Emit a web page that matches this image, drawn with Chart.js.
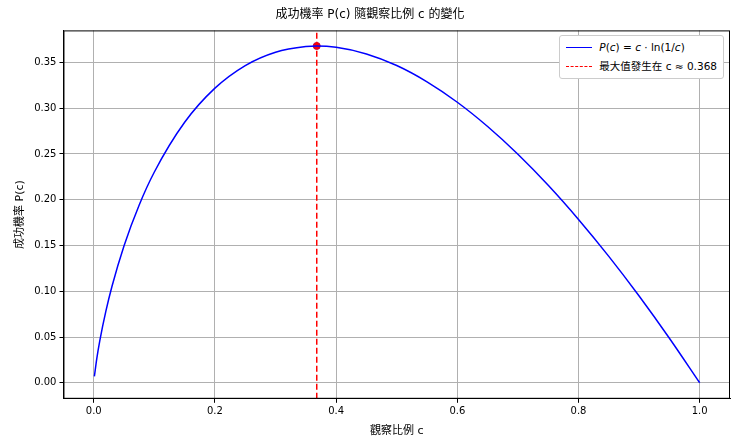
<!DOCTYPE html>
<html><head><meta charset="utf-8">
<script src="https://cdn.jsdelivr.net/npm/chart.js@4"></script>
<style>
body{margin:0;background:#fff;font-family:"DejaVu Sans","Noto Sans CJK TC",sans-serif;}
#wrap{position:relative;width:740px;height:444px;}
#legend{position:absolute;right:16px;top:35px;background:#fff;border:1px solid #ccc;border-radius:3px;padding:2px 6px;font-size:10.5px;line-height:19px;}
.row{display:flex;align-items:center;white-space:nowrap}
.sw{width:26px;height:0;margin-right:7px}
</style></head><body>
<div id="wrap"><canvas id="c" width="740" height="444"></canvas>
<div id="legend">
<div class="row"><span class="sw" style="border-top:1.5px solid blue"></span><span><i>P</i>(<i>c</i>) = <i>c</i> · ln(1/<i>c</i>)</span></div>
<div class="row"><span class="sw" style="border-top:1.8px dashed red"></span><span>最大值發生在 c ≈ 0.368</span></div>
</div></div>
<script>
const cVals=[0.001,0.005,0.01,0.02,0.03,0.05,0.075,0.1,0.15,0.2,0.25,0.3,0.35,0.3679,0.4,0.45,0.5,0.55,0.6,0.65,0.7,0.75,0.8,0.85,0.9,0.95,1.0];
const pVals=[0.0069,0.0265,0.0461,0.0782,0.1052,0.1498,0.1943,0.2303,0.2846,0.3219,0.3466,0.3612,0.3674,0.3679,0.3665,0.3593,0.3466,0.3288,0.3065,0.2800,0.2497,0.2158,0.1785,0.1381,0.0948,0.0487,0.0];
const peakC=0.368, peakP=0.368;
const xTicks=[0,0.2,0.4,0.6,0.8,1.0];
const yTicks=[0,0.05,0.1,0.15,0.2,0.25,0.3,0.35];
const F='"DejaVu Sans","Noto Sans CJK TC",sans-serif';
const frame={id:'frame',afterDraw(ch){const a=ch.chartArea,x=ch.ctx;x.save();x.strokeStyle='#000';x.lineWidth=1;x.strokeRect(a.left+0.5,a.top+0.5,a.right-a.left-1,a.bottom-a.top-1);x.restore();}};
new Chart(document.getElementById('c'),{
type:'scatter',
plugins:[frame],
data:{datasets:[
{data:cVals.map((c,i)=>({x:c,y:pVals[i]})),showLine:true,borderColor:'blue',borderWidth:1.5,pointRadius:0,cubicInterpolationMode:'monotone'},
{data:[{x:peakC,y:-0.0175},{x:peakC,y:0.385}],showLine:true,borderColor:'red',borderWidth:1.5,borderDash:[6,3],pointRadius:0},
{data:[{x:peakC,y:peakP}],pointRadius:3.5,pointBackgroundColor:'red',pointBorderColor:'#c0003a',borderWidth:1}
]},
options:{responsive:false,animation:false,
layout:{padding:{left:10,right:10,top:0,bottom:2}},
plugins:{legend:{display:false},tooltip:{enabled:false},
title:{display:true,text:'成功機率 P(c) 隨觀察比例 c 的變化',color:'#000',font:{family:F,size:12,weight:'normal'},padding:{top:8,bottom:8}}},
scales:{
x:{type:'linear',min:-0.05,max:1.05,afterBuildTicks:a=>{a.ticks=xTicks.map(v=>({value:v}))},
ticks:{color:'#000',font:{family:F,size:10},callback:v=>v.toFixed(1)},
grid:{color:'#b0b0b0',tickColor:'#000',tickLength:4},border:{color:'#000'},
title:{display:true,text:'觀察比例 c',color:'#000',font:{family:F,size:11}}},
y:{min:-0.0175,max:0.385,afterBuildTicks:a=>{a.ticks=yTicks.map(v=>({value:v}))},
ticks:{color:'#000',font:{family:F,size:10},callback:v=>v.toFixed(2)},
grid:{color:'#b0b0b0',tickColor:'#000',tickLength:4},border:{color:'#000'},
title:{display:true,text:'成功機率 P(c)',color:'#000',font:{family:F,size:11}}}
}}});
</script></body></html>
